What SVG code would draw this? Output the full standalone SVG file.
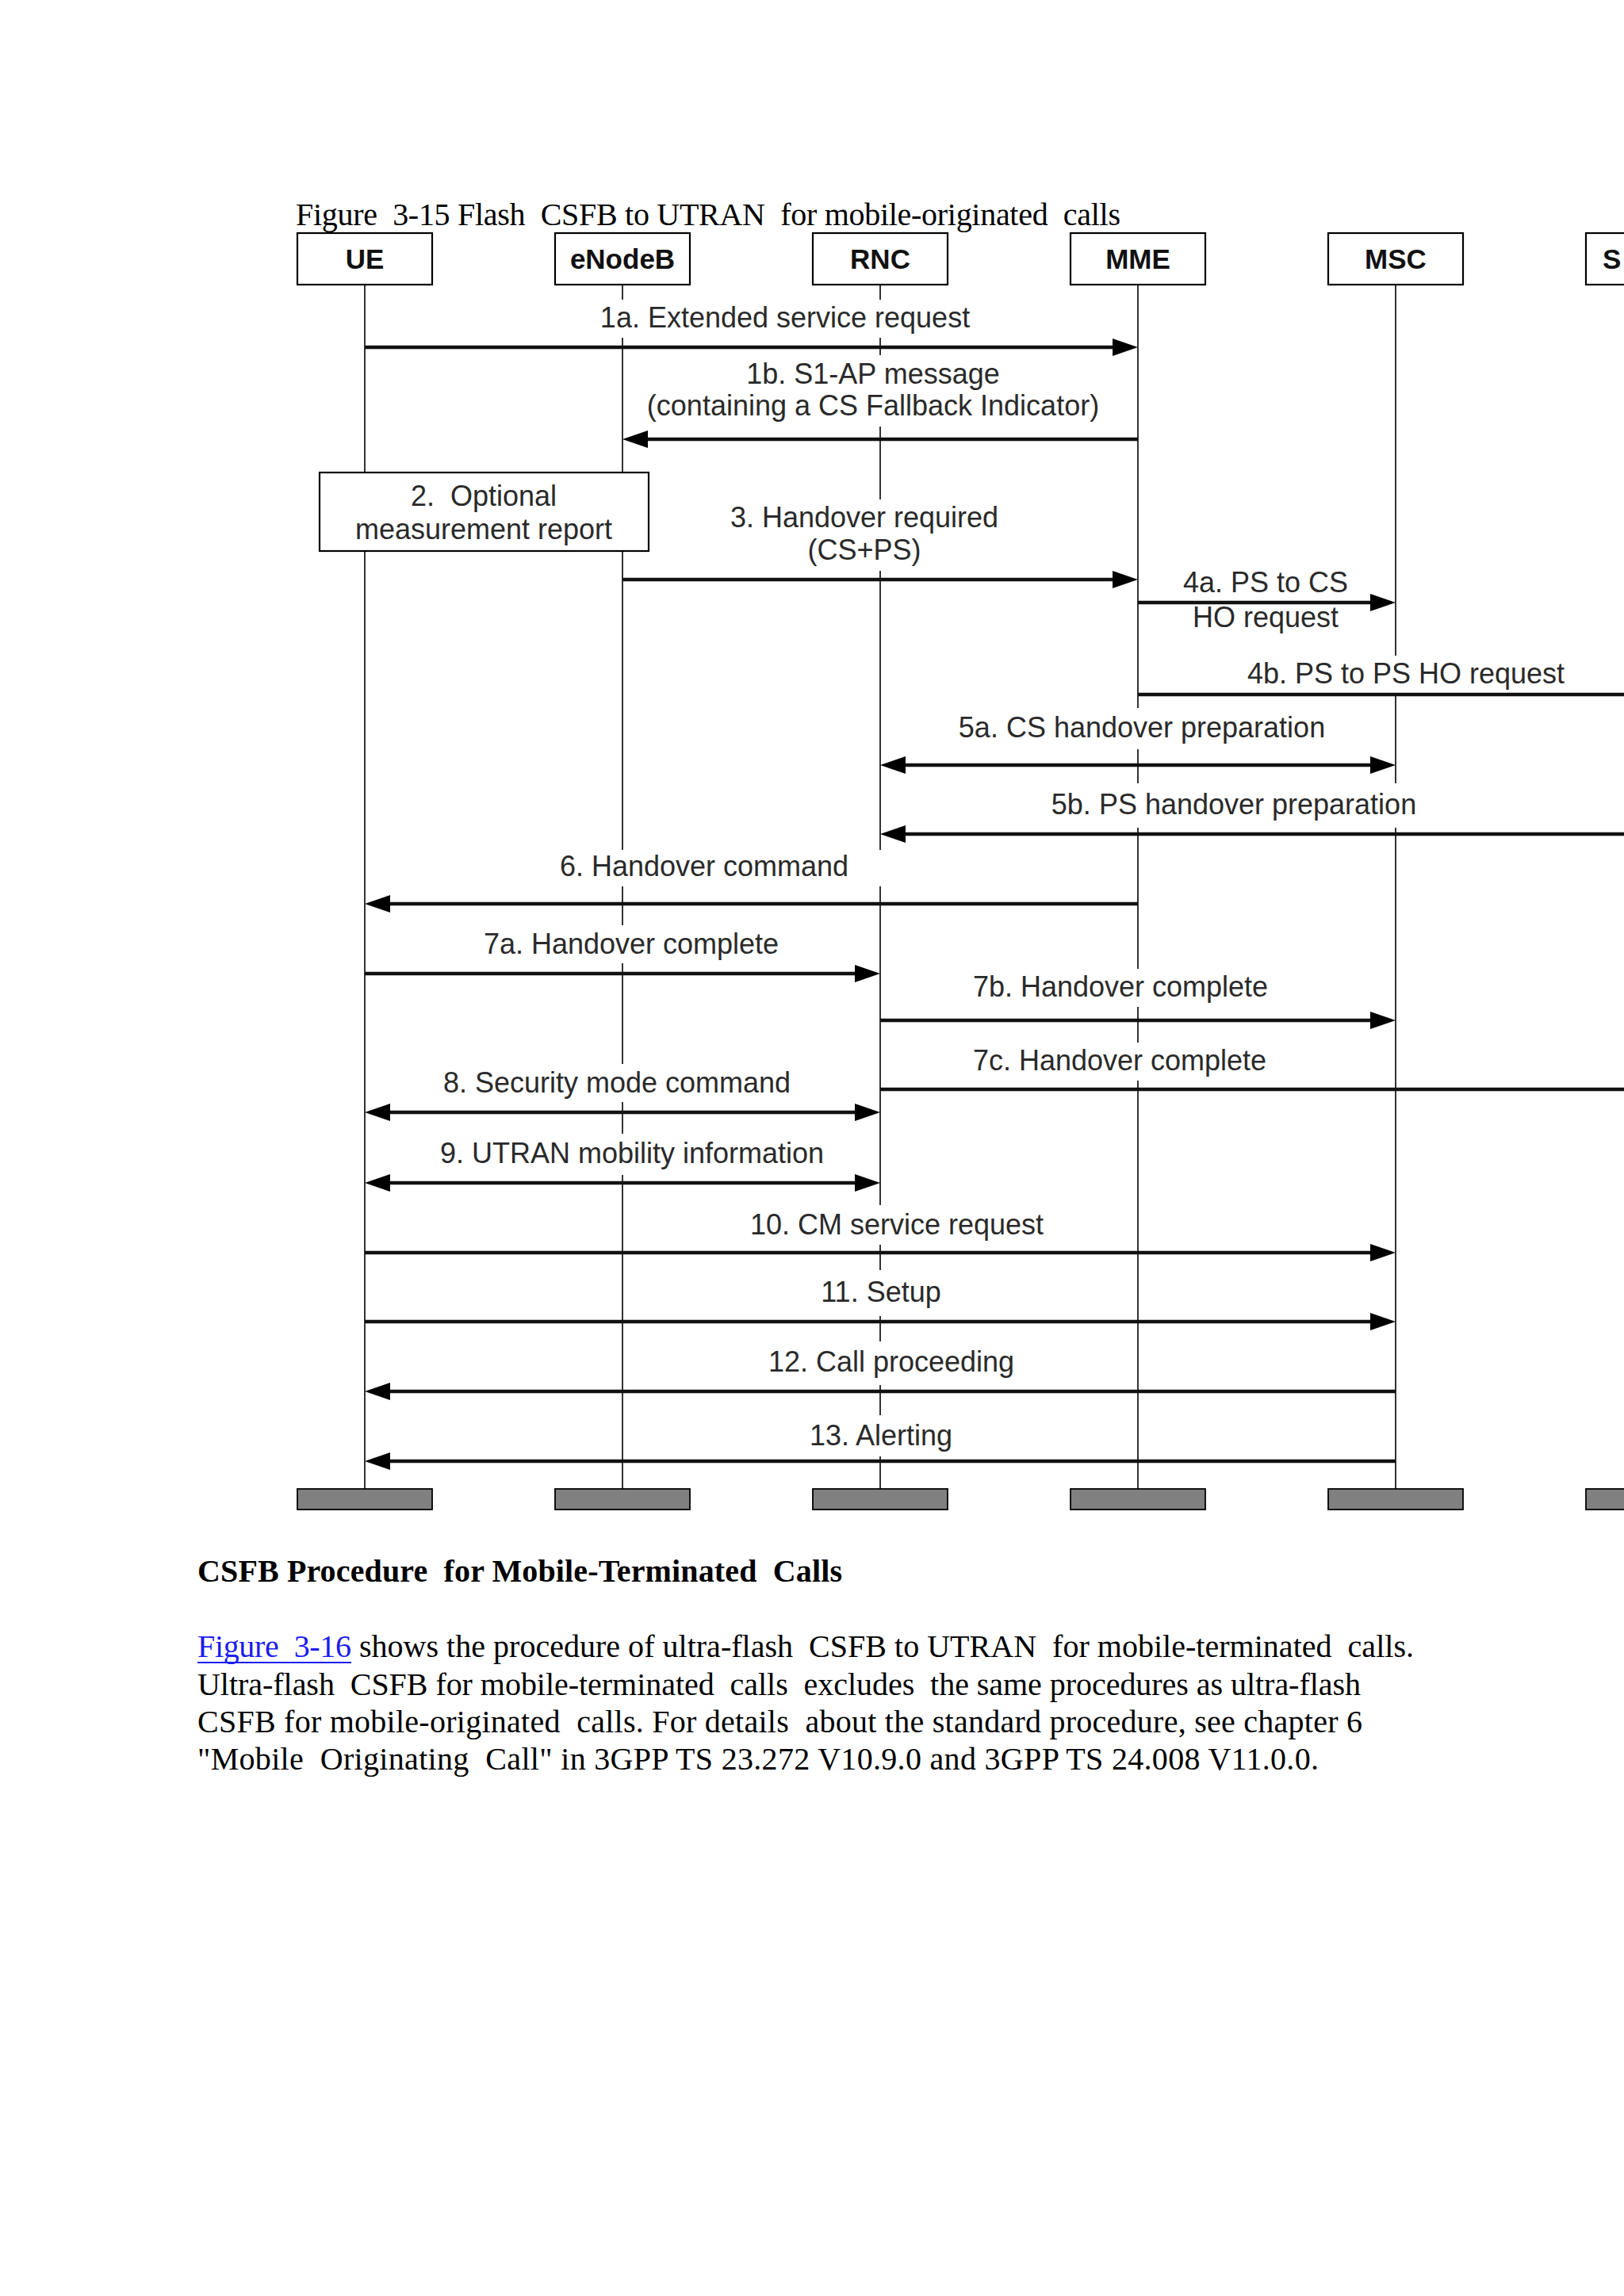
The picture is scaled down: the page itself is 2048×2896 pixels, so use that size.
<svg xmlns="http://www.w3.org/2000/svg" width="2048" height="2896" viewBox="0 0 2048 2896">
<defs>
<style>
.box{fill:#fff;stroke:#000;stroke-width:2.2}
.bar{fill:#808080;stroke:#000;stroke-width:1.8}
.life{stroke:#000;stroke-width:1.6;fill:none}
.nl{font-family:"Liberation Sans",Arial,sans-serif;font-weight:bold;font-size:35px;fill:#111;text-anchor:middle}
.ml{font-family:"Liberation Sans",Arial,sans-serif;font-size:36px;fill:#2a2a2a;text-anchor:middle;white-space:pre}
.bg{fill:#fff;stroke:none}
.msg{stroke:#111;stroke-width:4.5;fill:none}
.serif{font-family:"Liberation Serif","Times New Roman",serif;font-size:40px;fill:#000;white-space:pre}
.bold{font-weight:bold}
.link{fill:#1c1cf0}
</style>
<marker id="ah" markerUnits="userSpaceOnUse" markerWidth="32" markerHeight="22" refX="16" refY="11" orient="auto-start-reverse" viewBox="0 0 32 22">
<path d="M0,0 L32,11 L0,22 z" fill="#000"/>
</marker>
</defs>
<rect x="0" y="0" width="2048" height="2896" fill="#fff"/>

<text class="serif" x="373" y="284" textLength="1040">Figure  3-15 Flash  CSFB to UTRAN  for mobile-originated  calls</text>

<g id="lifelines">
<line class="life" x1="460" y1="359" x2="460" y2="596"/>
<line class="life" x1="460" y1="695" x2="460" y2="1878"/>
<line class="life" x1="785" y1="359" x2="785" y2="596"/>
<line class="life" x1="785" y1="695" x2="785" y2="1878"/>
<line class="life" x1="1110" y1="359" x2="1110" y2="1878"/>
<line class="life" x1="1435" y1="359" x2="1435" y2="1878"/>
<line class="life" x1="1760" y1="359" x2="1760" y2="1878"/>
</g>

<g id="node-UE">
<rect class="box" x="375" y="294" width="170" height="65"/>
<text class="nl" x="460" y="339">UE</text>
<rect class="bar" x="375" y="1878" width="170" height="26"/>
</g>
<g id="node-eNodeB">
<rect class="box" x="700" y="294" width="170" height="65"/>
<text class="nl" x="785" y="339">eNodeB</text>
<rect class="bar" x="700" y="1878" width="170" height="26"/>
</g>
<g id="node-RNC">
<rect class="box" x="1025" y="294" width="170" height="65"/>
<text class="nl" x="1110" y="339">RNC</text>
<rect class="bar" x="1025" y="1878" width="170" height="26"/>
</g>
<g id="node-MME">
<rect class="box" x="1350" y="294" width="170" height="65"/>
<text class="nl" x="1435" y="339">MME</text>
<rect class="bar" x="1350" y="1878" width="170" height="26"/>
</g>
<g id="node-MSC">
<rect class="box" x="1675" y="294" width="170" height="65"/>
<text class="nl" x="1760" y="339">MSC</text>
<rect class="bar" x="1675" y="1878" width="170" height="26"/>
</g>
<g id="node-SGSN">
<rect class="box" x="2000" y="294" width="170" height="65"/>
<text class="nl" x="2021" y="339" style="text-anchor:start">S</text>
<rect class="bar" x="2000" y="1878" width="170" height="26"/>
</g>

<g id="node-step2">
<rect class="box" x="403" y="596" width="415" height="99"/>
<text class="ml" x="610" y="638">2.  Optional</text>
<text class="ml" x="610" y="680">measurement report</text>
</g>

<g id="connectors">
<g id="m1a">
<rect class="bg" x="750" y="378" width="480" height="48"/>
<text class="ml" x="990" y="413">1a. Extended service request</text>
<line class="msg" x1="460" y1="438" x2="1419" y2="438" marker-end="url(#ah)"/>
</g>
<g id="m1b">
<rect class="bg" x="808" y="448" width="586" height="90"/>
<text class="ml" x="1101" y="484">1b. S1-AP message</text>
<text class="ml" x="1101" y="524">(containing a CS Fallback Indicator)</text>
<line class="msg" x1="1435" y1="554" x2="801" y2="554" marker-end="url(#ah)"/>
</g>
<g id="m3">
<rect class="bg" x="914" y="630" width="354" height="90"/>
<text class="ml" x="1090" y="665">3. Handover required</text>
<text class="ml" x="1090" y="706">(CS+PS)</text>
<line class="msg" x1="785" y1="731" x2="1419" y2="731" marker-end="url(#ah)"/>
</g>
<g id="m4a">
<text class="ml" x="1596" y="747">4a. PS to CS</text>
<text class="ml" x="1596" y="791">HO request</text>
<line class="msg" x1="1435" y1="760" x2="1744" y2="760" marker-end="url(#ah)"/>
</g>
<g id="m4b">
<rect class="bg" x="1564" y="827" width="420" height="47"/>
<text class="ml" x="1773" y="862">4b. PS to PS HO request</text>
<line class="msg" x1="1435" y1="876" x2="2050" y2="876"/>
</g>
<g id="m5a">
<rect class="bg" x="1202" y="893" width="478" height="52"/>
<text class="ml" x="1440" y="930">5a. CS handover preparation</text>
<line class="msg" x1="1126" y1="965" x2="1744" y2="965" marker-start="url(#ah)" marker-end="url(#ah)"/>
</g>
<g id="m5b">
<rect class="bg" x="1318" y="988" width="478" height="56"/>
<text class="ml" x="1556" y="1027">5b. PS handover preparation</text>
<line class="msg" x1="2050" y1="1052" x2="1126" y2="1052" marker-end="url(#ah)"/>
</g>
<g id="m6">
<rect class="bg" x="697" y="1072" width="425" height="46"/>
<text class="ml" x="888" y="1105">6. Handover command</text>
<line class="msg" x1="1435" y1="1140" x2="476" y2="1140" marker-end="url(#ah)"/>
</g>
<g id="m7a">
<rect class="bg" x="602" y="1167" width="388" height="48"/>
<text class="ml" x="796" y="1203">7a. Handover complete</text>
<line class="msg" x1="460" y1="1228" x2="1094" y2="1228" marker-end="url(#ah)"/>
</g>
<g id="m7b">
<rect class="bg" x="1219" y="1222" width="388" height="48"/>
<text class="ml" x="1413" y="1257">7b. Handover complete</text>
<line class="msg" x1="1110" y1="1287" x2="1744" y2="1287" marker-end="url(#ah)"/>
</g>
<g id="m7c">
<rect class="bg" x="1219" y="1315" width="388" height="48"/>
<text class="ml" x="1412" y="1350">7c. Handover complete</text>
<line class="msg" x1="1110" y1="1374" x2="2050" y2="1374"/>
</g>
<g id="m8">
<rect class="bg" x="551" y="1342" width="454" height="48"/>
<text class="ml" x="778" y="1378">8. Security mode command</text>
<line class="msg" x1="476" y1="1403" x2="1094" y2="1403" marker-start="url(#ah)" marker-end="url(#ah)"/>
</g>
<g id="m9">
<rect class="bg" x="548" y="1430" width="500" height="52"/>
<text class="ml" x="797" y="1467">9. UTRAN mobility information</text>
<line class="msg" x1="476" y1="1492" x2="1094" y2="1492" marker-start="url(#ah)" marker-end="url(#ah)"/>
</g>
<g id="m10">
<rect class="bg" x="940" y="1520" width="382" height="50"/>
<text class="ml" x="1131" y="1557">10. CM service request</text>
<line class="msg" x1="460" y1="1580" x2="1744" y2="1580" marker-end="url(#ah)"/>
</g>
<g id="m11">
<rect class="bg" x="1027" y="1602" width="168" height="58"/>
<text class="ml" x="1111" y="1642">11. Setup</text>
<line class="msg" x1="460" y1="1667" x2="1744" y2="1667" marker-end="url(#ah)"/>
</g>
<g id="m12">
<rect class="bg" x="963" y="1692" width="322" height="55"/>
<text class="ml" x="1124" y="1730">12. Call proceeding</text>
<line class="msg" x1="1760" y1="1755" x2="476" y2="1755" marker-end="url(#ah)"/>
</g>
<g id="m13">
<rect class="bg" x="1014" y="1785" width="194" height="52"/>
<text class="ml" x="1111" y="1823">13. Alerting</text>
<line class="msg" x1="1760" y1="1843" x2="476" y2="1843" marker-end="url(#ah)"/>
</g>
</g>

<g id="body-text">
<text class="serif bold" x="249" y="1995" textLength="813">CSFB Procedure  for Mobile-Terminated  Calls</text>
<text class="serif link" x="249" y="2090" textLength="194">Figure  3-16</text>
<line x1="249" y1="2097" x2="443" y2="2097" stroke="#1c1cf0" stroke-width="2.2"/>
<text class="serif" x="453" y="2090" textLength="1330">shows the procedure of ultra-flash  CSFB to UTRAN  for mobile-terminated  calls.</text>
<text class="serif" x="249" y="2138" textLength="1467">Ultra-flash  CSFB for mobile-terminated  calls  excludes  the same procedures as ultra-flash</text>
<text class="serif" x="249" y="2185" textLength="1469">CSFB for mobile-originated  calls. For details  about the standard procedure, see chapter 6</text>
<text class="serif" x="249" y="2232" textLength="1414">"Mobile  Originating  Call" in 3GPP TS 23.272 V10.9.0 and 3GPP TS 24.008 V11.0.0.</text>
</g>
</svg>
